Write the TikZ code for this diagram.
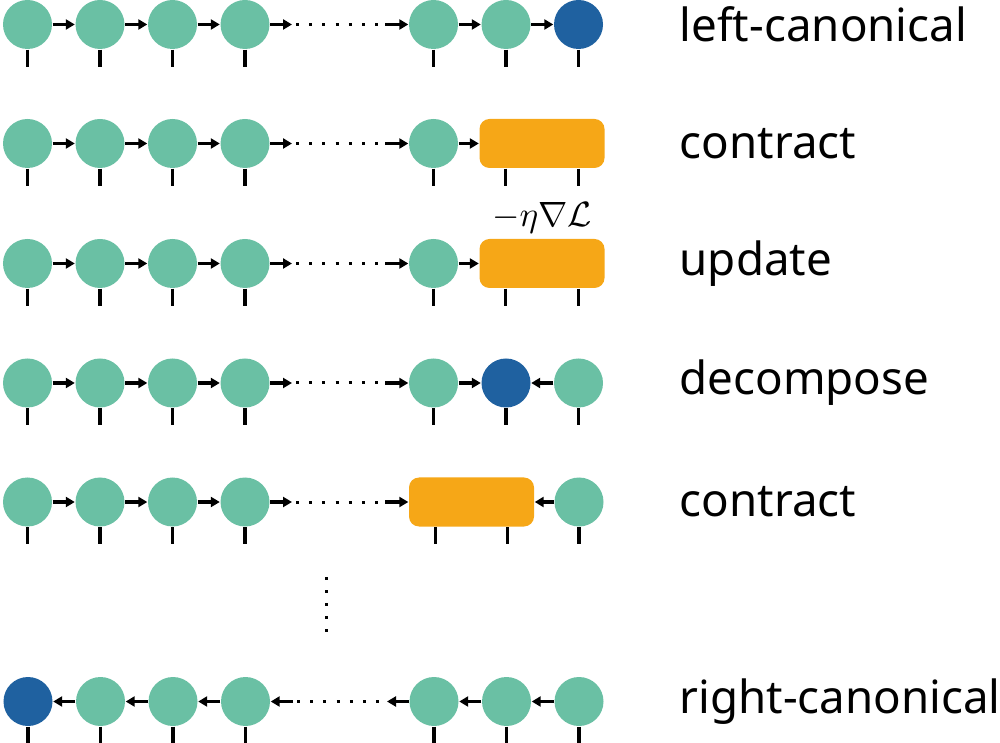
\documentclass[tikz,border=0pt]{standalone}
\usepackage{tikz}
\usepackage{xcolor}
\usepackage{amsmath}
\usepackage{fontspec}
\usetikzlibrary{arrows.meta}
\newfontfamily\labelfont{Noto Sans}
\definecolor{sitegreen}{HTML}{6AC0A4}
\definecolor{centreblue}{HTML}{1F61A0}
\definecolor{mergeorange}{HTML}{F6A717}

\begin{document}
\begin{tikzpicture}[
  leg/.style={draw=black, line width=0.032cm},
  site/.style={circle, fill=sitegreen, minimum size=0.49cm, inner sep=0pt, append after command={(\tikzlastnode.south) edge[leg] ++(0,-0.17)}},
  centre/.style={site, fill=centreblue},
  merged/.style={rectangle, rounded corners=0.1cm, fill=mergeorange, minimum width=1.25cm, minimum height=0.49cm, inner sep=0pt, append after command={([xshift=-0.3625cm]\tikzlastnode.south) edge[leg] ++(0,-0.17) ([xshift=0.3625cm]\tikzlastnode.south) edge[leg] ++(0,-0.17)}},
  link/.style={line width=0.033cm, -{Triangle[length=0.09cm, width=0.1cm]}},
  gap/.style={line width=0.03cm, dash pattern=on 0.03cm off 0.102cm, dash phase=0.092cm},
  vgap/.style={line width=0.03cm, dash pattern=on 0.03cm off 0.1cm},
  tag/.style={anchor=west, inner sep=0pt, font=\labelfont\fontsize{13}{16}\selectfont},
  grad/.style={anchor=base, inner sep=0pt},
]
\useasboundingbox (0,0) rectangle (10,-7.43);

\node[site] (A1) at (0.275,-0.245) {};
\node[site] (A2) at (1.0,-0.245) {};
\node[site] (A3) at (1.725,-0.245) {};
\node[site] (A4) at (2.45,-0.245) {};
\node[site] (A5) at (4.335,-0.245) {};
\node[site] (A6) at (5.06,-0.245) {};
\node[centre] (A7) at (5.785,-0.245) {};
\coordinate (A4r) at (2.92,-0.245);
\coordinate (A5l) at (3.85,-0.245);
\draw[link] (A1) -- (A2);
\draw[link] (A2) -- (A3);
\draw[link] (A3) -- (A4);
\draw[link] (A4) -- (A4r);
\draw[gap] (A4r) -- (A5l);
\draw[link] (A5l) -- (A5);
\draw[link] (A5) -- (A6);
\draw[link] (A6) -- (A7);
\node[tag] (tagA) at (6.79,-0.245) {left-canonical};

\node[site] (B1) at (0.275,-1.435) {};
\node[site] (B2) at (1.0,-1.435) {};
\node[site] (B3) at (1.725,-1.435) {};
\node[site] (B4) at (2.45,-1.435) {};
\node[site] (B5) at (4.335,-1.435) {};
\node[merged] (B67) at (5.42,-1.435) {};
\coordinate (B4r) at (2.92,-1.435);
\coordinate (B5l) at (3.85,-1.435);
\draw[link] (B1) -- (B2);
\draw[link] (B2) -- (B3);
\draw[link] (B3) -- (B4);
\draw[link] (B4) -- (B4r);
\draw[gap] (B4r) -- (B5l);
\draw[link] (B5l) -- (B5);
\draw[link] (B5) -- (B67);
\node[tag] (tagB) at (6.79,-1.435) {contract};

\node[site] (C1) at (0.275,-2.635) {};
\node[site] (C2) at (1.0,-2.635) {};
\node[site] (C3) at (1.725,-2.635) {};
\node[site] (C4) at (2.45,-2.635) {};
\node[site] (C5) at (4.335,-2.635) {};
\node[merged] (C67) at (5.42,-2.635) {};
\coordinate (C4r) at (2.92,-2.635);
\coordinate (C5l) at (3.85,-2.635);
\draw[link] (C1) -- (C2);
\draw[link] (C2) -- (C3);
\draw[link] (C3) -- (C4);
\draw[link] (C4) -- (C4r);
\draw[gap] (C4r) -- (C5l);
\draw[link] (C5l) -- (C5);
\draw[link] (C5) -- (C67);
\node[grad] (gradC) at ([yshift=0.12cm]C67.north) {$-\eta\nabla\mathcal{L}$};
\node[tag] (tagC) at (6.79,-2.635) {update};

\node[site] (D1) at (0.275,-3.83) {};
\node[site] (D2) at (1.0,-3.83) {};
\node[site] (D3) at (1.725,-3.83) {};
\node[site] (D4) at (2.45,-3.83) {};
\node[site] (D5) at (4.335,-3.83) {};
\node[centre] (D6) at (5.06,-3.83) {};
\node[site] (D7) at (5.785,-3.83) {};
\coordinate (D4r) at (2.92,-3.83);
\coordinate (D5l) at (3.85,-3.83);
\draw[link] (D1) -- (D2);
\draw[link] (D2) -- (D3);
\draw[link] (D3) -- (D4);
\draw[link] (D4) -- (D4r);
\draw[gap] (D4r) -- (D5l);
\draw[link] (D5l) -- (D5);
\draw[link] (D5) -- (D6);
\draw[link] (D7) -- (D6);
\node[tag] (tagD) at (6.79,-3.83) {decompose};

\node[site] (E1) at (0.275,-5.02) {};
\node[site] (E2) at (1.0,-5.02) {};
\node[site] (E3) at (1.725,-5.02) {};
\node[site] (E4) at (2.45,-5.02) {};
\node[merged] (E56) at (4.715,-5.02) {};
\node[site] (E7) at (5.79,-5.02) {};
\coordinate (E4r) at (2.92,-5.02);
\coordinate (E5l) at (3.85,-5.02);
\draw[link] (E1) -- (E2);
\draw[link] (E2) -- (E3);
\draw[link] (E3) -- (E4);
\draw[link] (E4) -- (E4r);
\draw[gap] (E4r) -- (E5l);
\draw[link] (E5l) -- (E56);
\draw[link] (E7) -- (E56);
\node[tag] (tagE) at (6.79,-5.02) {contract};

\draw[vgap] (3.26,-5.772) -- (3.26,-6.33);

\node[centre] (F1) at (0.28,-7.015) {};
\node[site] (F2) at (1.005,-7.015) {};
\node[site] (F3) at (1.73,-7.015) {};
\node[site] (F4) at (2.455,-7.015) {};
\node[site] (F5) at (4.34,-7.015) {};
\node[site] (F6) at (5.065,-7.015) {};
\node[site] (F7) at (5.79,-7.015) {};
\coordinate (F4r) at (2.93,-7.015);
\coordinate (F5l) at (3.87,-7.015);
\draw[link] (F2) -- (F1);
\draw[link] (F3) -- (F2);
\draw[link] (F4) -- (F3);
\draw[link] (F4r) -- (F4);
\draw[gap] (F4r) -- (F5l);
\draw[link] (F5) -- (F5l);
\draw[link] (F6) -- (F5);
\draw[link] (F7) -- (F6);
\node[tag] (tagF) at (6.79,-7.015) {right-canonical};
\end{tikzpicture}
\end{document}
